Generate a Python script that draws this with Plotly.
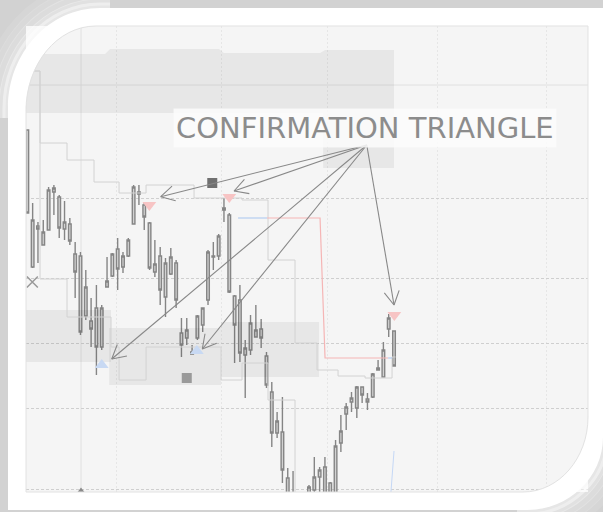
import math
import plotly.graph_objects as go

# ---------------- data ----------------
candle_idx = list(range(70))
high = [136.2, 128.9, 127.0, 127.2, 130.5, 130.7, 129.7, 129.1, 127.4, 125.0,
        124.0, 122.2, 119.4, 120.7, 118.7, 123.5, 123.9, 125.4, 124.0, 125.4,
        130.7, 130.7, 129.0, 127.0, 125.2, 124.5, 123.4, 124.4, 123.2, 117.4,
        117.4, 114.7, 117.7, 118.4, 124.2, 125.0, 125.8, 129.4, 127.9, 119.7,
        120.7, 115.2, 117.7, 118.7, 117.3, 114.0, 111.0, 108.0, 109.5, 102.4,
        102.1, 99.7, 99.5, 100.7, 103.5, 102.5, 103.5, 101.0, 105.2, 107.7,
        108.9, 110.0, 110.6, 110.5, 109.9, 111.9, 113.2, 115.0, 117.8, 116.1]
open_ = [136.2, 122.5, 126.6, 124.7, 126.2, 130.0, 129.5, 126.3, 126.8, 123.8,
         123.6, 117.6, 117.1, 118.4, 114.5, 120.5, 121.6, 124.3, 122.5, 123.6,
         126.8, 130.0, 128.7, 126.9, 122.0, 123.6, 119.5, 121.8, 122.9, 115.9,
         115.4, 114.0, 115.4, 116.7, 119.2, 123.6, 123.6, 128.2, 127.7, 119.6,
         119.2, 113.7, 114.2, 115.5, 116.3, 113.6, 110.0, 105.9, 106.0, 101.4,
         99.7, 99.2, 98.2, 99.2, 100.2, 101.5, 102.5, 100.9, 99.2, 104.9,
         107.8, 109.0, 108.4, 110.5, 109.3, 109.5, 112.2, 111.5, 116.3, 116.1]
close = [127.9, 127.2, 126.3, 126.0, 130.2, 130.4, 126.4, 127.0, 125.1, 122.0,
         116.0, 120.5, 116.3, 114.5, 118.4, 121.1, 123.8, 122.3, 123.6, 125.2,
         130.5, 129.8, 127.5, 122.4, 122.8, 120.2, 122.9, 123.5, 119.2, 114.7,
         116.2, 113.8, 117.6, 118.4, 124.0, 123.5, 125.6, 128.4, 120.0, 116.7,
         113.9, 114.4, 116.9, 116.2, 115.4, 110.7, 105.9, 107.1, 102.2, 99.7,
         98.7, 98.2, 99.2, 100.5, 101.5, 102.2, 99.2, 99.2, 104.6, 106.1,
         108.5, 109.4, 110.5, 109.7, 109.0, 111.8, 112.4, 114.2, 117.4, 112.6]
low = [127.9, 122.4, 122.9, 124.7, 126.2, 127.7, 125.4, 125.2, 124.7, 119.4,
       115.7, 117.2, 114.5, 111.7, 114.2, 120.5, 121.5, 120.2, 121.9, 123.5,
       126.8, 128.7, 126.2, 122.2, 121.5, 118.7, 117.5, 121.7, 118.4, 113.5,
       114.7, 113.8, 115.2, 116.0, 118.7, 122.2, 123.2, 127.0, 119.9, 112.9,
       113.0, 109.4, 113.7, 115.5, 114.4, 110.4, 104.5, 105.4, 100.9, 99.2,
       98.2, 97.7, 97.7, 98.7, 99.7, 100.0, 98.7, 98.7, 98.7, 104.0,
       106.2, 108.0, 107.4, 108.9, 108.2, 109.4, 112.2, 111.5, 115.5, 112.6]

# stepped channel levels (change index, level)
upper_x = [-0.25, 2.39, 7.47, 12.55, 17.26, 22.34, 31.37, 40.40, 45.29, 50.37, 54.52, 58.47, 63.55, 68.63, 69.3]
upper_lvl = [142.1, 134.9, 133.2, 131.0, 129.9, 130.7, 129.4, 129.2, 123.2, 114.9, 112.2, 111.6, 111.4, 113.5, 113.5]
lower_x = [-0.25, 2.39, 7.47, 15.75, 17.26, 22.34, 36.45, 40.40, 45.29, 50.37, 52.0]
lower_lvl = [142.1, 121.3, 117.5, 114.5, 111.2, 114.5, 111.2, 112.9, 109.2, 96.0, 96.0]

# target lines
red_x = [45.11, 55.08, 56.02, 67.88]
red_y = [127.4, 127.4, 113.4, 113.4]
blue_x = [39.65, 45.11]
blue_y = [127.4, 127.4]
blue2_x = [67.88, 68.63]
blue2_y = [113.4, 113.4]
blue3_x = [69.0, 68.0]
blue3_y = [104.1, 97.0]

# zones (polygons)
zone_top_x = [-0.25, 14.62, 15.56, 36.07, 37.0, 55.08, 56.02, 69.0, 69.0, 55.65, 55.65, -0.25]
zone_top_y = [143.8, 143.8, 144.3, 144.3, 143.9, 143.9, 144.2, 144.2, 132.4, 132.4, 137.9, 137.9]
zones_mid = [  # x0, x1, y_hi, y_lo
    (-0.25, 15.75, 118.2, 113.0),
    (15.4, 36.45, 116.4, 110.7),
    (36.45, 54.9, 117.0, 111.5),
]

# signals
sell_x, sell_y = [22.96, 38.0, 69.06], [128.7, 129.5, 117.7]
buy_x, buy_y = [14.0, 31.9], [112.7, 114.1]
sq_dark_x, sq_dark_y = [34.8], [130.9]
sq_light_x, sq_light_y = [30.0], [111.4]
cross_x, cross_y = [0.94], [121.0]
session_x, session_y = [10.1], [100.0]

label_text = "CONFIRMATION TRIANGLE"
label_x, label_y = 63.5, 134.7
arrow_tail = (63.87, 134.7)
arrow_tip_x = [25.10, 38.9, 15.88, 32.93, 69.0]
arrow_tip_y = [129.53, 130.1, 113.3, 114.3, 118.7]

hgrid = [129.4, 121.4, 114.9, 108.4, 100.3]
vgrid = [16.7, 36.45, 56.4, 77.1, 97.6]
solid_h = 140.7
solid_v = 10.1

# ---------------- figure ----------------
W, H = 603, 512
L, R, T, B = 26, 588, 26, 492
XR = [-0.25, 105.5]
YR = [100, 146.6]
sx = (R - L) / (XR[1] - XR[0])   # px per x unit
sy = (B - T) / (YR[1] - YR[0])   # px per y unit

fig = go.Figure()

zone_fill = "rgba(0,0,0,0.055)"
fig.add_trace(go.Scatter(x=zone_top_x, y=zone_top_y, fill="toself", mode="none",
                         fillcolor=zone_fill, hoverinfo="skip"))
for x0, x1, yh, yl in zones_mid:
    fig.add_trace(go.Scatter(x=[x0, x1, x1, x0], y=[yh, yh, yl, yl], fill="toself",
                             mode="none", fillcolor=zone_fill, hoverinfo="skip"))

line_c = "#d2d2d2"
fig.add_trace(go.Scatter(x=upper_x, y=upper_lvl, mode="lines", line=dict(color=line_c, width=1, shape="hv")))
fig.add_trace(go.Scatter(x=lower_x, y=lower_lvl, mode="lines", line=dict(color=line_c, width=1, shape="hv")))
fig.add_trace(go.Scatter(x=red_x, y=red_y, mode="lines", line=dict(color="#f5b5b5", width=1.2)))
fig.add_trace(go.Scatter(x=blue_x, y=blue_y, mode="lines", line=dict(color="#b5cdf0", width=1.2)))
fig.add_trace(go.Scatter(x=blue2_x, y=blue2_y, mode="lines", line=dict(color="#b5cdf0", width=1.2)))
fig.add_trace(go.Scatter(x=blue3_x, y=blue3_y, mode="lines", line=dict(color="#c5d8f5", width=1)))

cstyle = dict(line=dict(color="#858585", width=1.4), fillcolor="#d2d2d2")
fig.add_trace(go.Candlestick(x=candle_idx, open=open_, high=high, low=low, close=close,
                             increasing=cstyle, decreasing=cstyle, whiskerwidth=0,
                             hoverinfo="skip"))

fig.add_trace(go.Scatter(x=sell_x, y=sell_y, mode="markers",
                         marker=dict(symbol="triangle-down", size=12, color="#f7c4c4")))
fig.add_trace(go.Scatter(x=buy_x, y=buy_y, mode="markers",
                         marker=dict(symbol="triangle-up", size=12, color="#c8d9f3")))
fig.add_trace(go.Scatter(x=sq_dark_x, y=sq_dark_y, mode="markers",
                         marker=dict(symbol="square", size=10, color="#707070")))
fig.add_trace(go.Scatter(x=sq_light_x, y=sq_light_y, mode="markers",
                         marker=dict(symbol="square", size=10, color="#9a9a9a")))
fig.add_trace(go.Scatter(x=cross_x, y=cross_y, mode="markers",
                         marker=dict(symbol="x-thin", size=11, line=dict(color="#999999", width=1.5))))
fig.add_trace(go.Scatter(x=session_x, y=session_y, mode="markers",
                         marker=dict(symbol="triangle-up", size=9, color="#8a8a8a")))

# arrows: shafts + open V heads (head geometry derived from the axis scales)
ax_, ay_ = [], []
head_len, head_ang = 15.5, math.radians(29)
for tx, ty in zip(arrow_tip_x, arrow_tip_y):
    ax_ += [arrow_tail[0], tx, None]
    ay_ += [arrow_tail[1], ty, None]
    dxp = (arrow_tail[0] - tx) * sx
    dyp = -(arrow_tail[1] - ty) * sy
    ang = math.atan2(dyp, dxp)
    pts = []
    for s in (1, -1):
        a = ang + s * head_ang
        pts.append((tx + head_len * math.cos(a) / sx, ty - head_len * math.sin(a) / sy))
    ax_ += [pts[0][0], tx, pts[1][0], None]
    ay_ += [pts[0][1], ty, pts[1][1], None]
fig.add_trace(go.Scatter(x=ax_, y=ay_, mode="lines", line=dict(color="#888888", width=1.1),
                         hoverinfo="skip"))

ann = [dict(x=label_x, y=label_y, xref="x", yref="y", text=label_text, showarrow=False,
            xanchor="center", yanchor="bottom", yshift=-3,
            font=dict(family="DejaVu Sans", size=29, color="#8c8c8c"),
            bgcolor="rgba(251,251,251,0.85)", borderpad=2)]


def px2paper(x, y):
    return x / W, 1 - y / H


def P(x, y):
    X, Y = px2paper(x, y)
    return f"{X:.5f},{Y:.5f}"


def rr_path(l, t, r, b, tl, tr, br, bl):
    k = 0.5523
    s = f"M{P(l + tl[0], t)} L{P(r - tr[0], t)} "
    s += f"C{P(r - tr[0] + k * tr[0], t)} {P(r, t + tr[1] - k * tr[1])} {P(r, t + tr[1])} "
    s += f"L{P(r, b - br[1])} "
    s += f"C{P(r, b - br[1] + k * br[1])} {P(r - br[0] + k * br[0], b)} {P(r - br[0], b)} "
    s += f"L{P(l + bl[0], b)} "
    s += f"C{P(l + bl[0] - k * bl[0], b)} {P(l, b - bl[1] + k * bl[1])} {P(l, b - bl[1])} "
    s += f"L{P(l, t + tl[1])} "
    s += f"C{P(l, t + tl[1] - k * tl[1])} {P(l + tl[0] - k * tl[0], t)} {P(l + tl[0], t)} Z"
    return s


def corner_arc(cx, cy, rx, ry, quadrant, ext=10):
    k = 0.5523
    if quadrant == "tl":
        return (f"M{P(cx - rx, cy + ext)} L{P(cx - rx, cy)} "
                f"C{P(cx - rx, cy - k * ry)} {P(cx - k * rx, cy - ry)} {P(cx, cy - ry)} "
                f"L{P(cx + ext, cy - ry)}")
    return (f"M{P(cx + rx, cy - ext)} L{P(cx + rx, cy)} "
            f"C{P(cx + rx, cy + k * ry)} {P(cx + k * rx, cy + ry)} {P(cx, cy + ry)} "
            f"L{P(cx - ext, cy + ry)}")


outer = rr_path(8, 8, 603, 510, (92, 100), (0, 0), (76, 73), (0, 0))
inner = rr_path(L, T, R, B, (70, 85), (0, 0), (65, 75), (0, 0))

shapes = [
    dict(type="line", xref="x domain", yref="y", x0=0, x1=1, y0=solid_h, y1=solid_h,
         line=dict(color="#e0e0e0", width=1), layer="below"),
    dict(type="line", xref="x", yref="y domain", x0=solid_v, x1=solid_v, y0=0, y1=1,
         line=dict(color="#e0e0e0", width=1), layer="below"),
]
for off, a_ in [(24, 0.10), (18, 0.16), (12, 0.24), (6, 0.34), (2, 0.45)]:
    shapes.append(dict(type="path", xref="paper", yref="paper",
                       path=corner_arc(100, 108, 92 + off, 100 + off, "tl"),
                       line=dict(color=f"rgba(255,255,255,{a_})", width=7), layer="above"))
    shapes.append(dict(type="path", xref="paper", yref="paper",
                       path=corner_arc(527, 437, 76 + off, 73 + off, "br"),
                       line=dict(color=f"rgba(255,255,255,{a_})", width=7), layer="above"))
shapes.append(dict(type="path", xref="paper", yref="paper", path=outer + " " + inner,
                   fillcolor="#ffffff", fillrule="evenodd", line=dict(width=0), layer="above"))
shapes.append(dict(type="path", xref="paper", yref="paper", path=inner,
                   fillcolor="rgba(0,0,0,0)", line=dict(color="#e2e2e2", width=1), layer="above"))

fig.update_layout(
    width=W, height=H, autosize=False,
    margin=dict(l=0, r=0, t=0, b=0, pad=0),
    paper_bgcolor="#d2d2d2", plot_bgcolor="#f5f5f5",
    showlegend=False, hovermode=False,
    annotations=ann, shapes=shapes,
    xaxis=dict(domain=[L / W, R / W], range=XR, showticklabels=False,
               tickvals=vgrid, gridcolor="#e6e6e6", griddash="2px,2px", gridwidth=1,
               zeroline=False, showline=False, rangeslider=dict(visible=False), fixedrange=True),
    yaxis=dict(domain=[1 - B / H, 1 - T / H], range=YR, showticklabels=False,
               tickvals=hgrid, gridcolor="#cfcfcf", griddash="3px,2px", gridwidth=1,
               zeroline=False, showline=False, fixedrange=True),
)

fig.write_html(
    "out.html",
    config={"displayModeBar": False},
    post_script="document.body.style.margin='0';document.body.style.background='#d2d2d2';",
)
